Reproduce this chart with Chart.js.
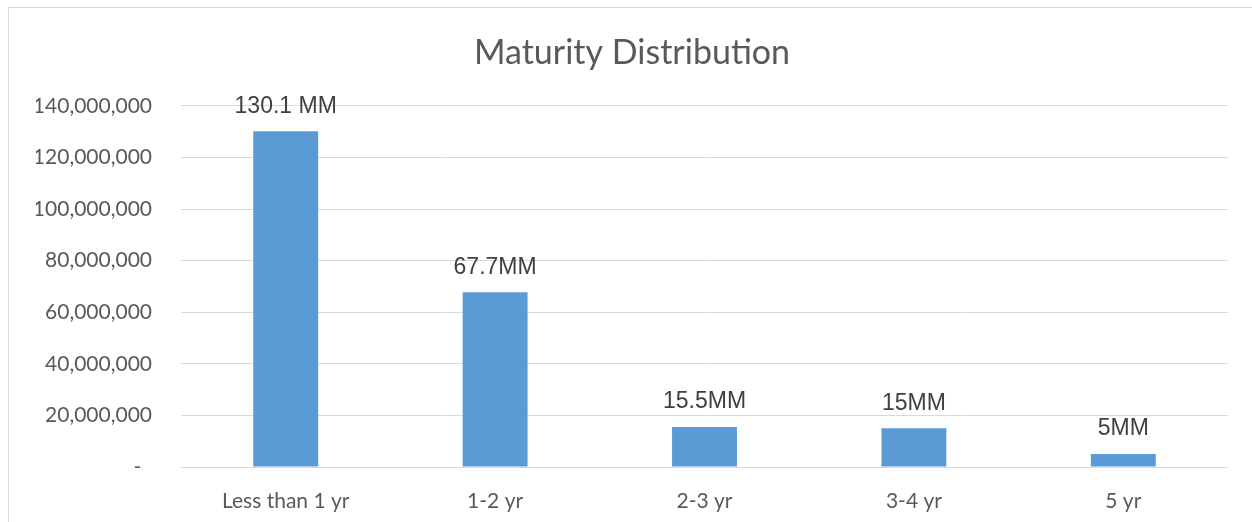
<!DOCTYPE html>
<html>
<head>
<meta charset="utf-8">
<script src="https://cdn.jsdelivr.net/npm/chart.js@4.4.1/dist/chart.umd.min.js"></script>
<style>
  html, body { margin: 0; padding: 0; background: #fff; }
  #wrap { position: relative; width: 1252px; height: 522px; }
  #frame { position: absolute; left: 8px; top: 7px; right: -10px; bottom: -10px;
           border-left: 1px solid #d9d9d9; border-top: 1px solid #d9d9d9; pointer-events: none; }
</style>
</head>
<body>
<div id="wrap">
  <canvas id="mycanvas" width="1252" height="522"></canvas>
  <div id="frame"></div>
</div>
<script>
// chart data
var categories = ["Less than 1 yr", "1-2 yr", "2-3 yr", "3-4 yr", "5 yr"];
var amounts = [130100000, 67700000, 15500000, 15000000, 5000000];
var barLabels = ["130.1 MM", "67.7MM", "15.5MM", "15MM", "5MM"];
var yMax = 140000000;
var yStep = 20000000;

// draws the value text above each bar
var barLabelPlugin = {
	id: "barLabels",
	afterDatasetsDraw: function(chart){
		var ctx = chart.ctx;
		var meta = chart.getDatasetMeta(0);
		ctx.save();
		ctx.font = "23px 'Liberation Sans', Arial, sans-serif";
		ctx.fillStyle = "#404040";
		ctx.textAlign = "center";
		ctx.textBaseline = "middle";
		meta.data.forEach(function(bar, i){
			ctx.fillText(barLabels[i], bar.x, bar.y - 25);
		});
		ctx.restore();
	}
};

var chartdata = {
	labels: categories,
	datasets: [
	{
		label: "Maturity",
		backgroundColor: "#5b9bd5",
		borderWidth: 0,
		categoryPercentage: 1,
		barPercentage: 0.31,
		data: amounts
	}
	]
};

var ctx = document.getElementById("mycanvas");
var BarGraph = new Chart(ctx, {
	type: "bar",
	data: chartdata,
	plugins: [barLabelPlugin],
	options: {
		responsive: false,
		animation: false,
		layout: { padding: { left: 36, right: 24, top: 0, bottom: 0 } },
		plugins: {
			legend: { display: false },
			tooltip: { enabled: false },
			title: {
				display: true,
				text: "Maturity Distribution",
				color: "#595959",
				font: { family: "Lato, 'Open Sans', sans-serif", size: 34, weight: "normal", lineHeight: 1.2 },
				padding: { top: 33, bottom: 32 }
			}
		},
		scales: {
			x: {
				grid: { display: false, drawTicks: false },
				border: { display: false },
				ticks: { color: "#595959", padding: 22, font: { family: "Lato, sans-serif", size: 21 } },
				afterFit: function(scale){ scale.height = 55; }
			},
			y: {
				min: 0,
				max: yMax,
				grid: { color: "#d9d9d9", lineWidth: 1, drawTicks: false },
				border: { display: false },
				ticks: {
					stepSize: yStep,
					color: "#595959",
					padding: 29,
					font: { family: "Lato, sans-serif", size: 21 },
					callback: function(v){ return v === 0 ? "-  " : v.toLocaleString("en-US"); }
				},
				afterFit: function(scale){ scale.width = 145; }
			}
		}
	}
});
</script>
</body>
</html>
